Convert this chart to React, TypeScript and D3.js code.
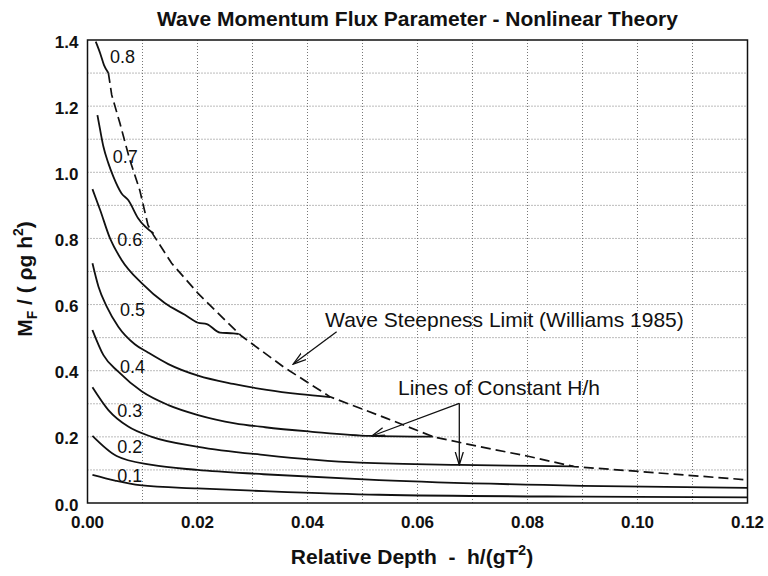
import React from "react";
import * as d3 from "d3";

// ---- data ----
const xTicks = [0, 0.02, 0.04, 0.06, 0.08, 0.1, 0.12];
const xTickLabels = ["0.00", "0.02", "0.04", "0.06", "0.08", "0.10", "0.12"];
const yTicks = [0, 0.2, 0.4, 0.6, 0.8, 1.0, 1.2, 1.4];
const yTickLabels = ["0.0", "0.2", "0.4", "0.6", "0.8", "1.0", "1.2", "1.4"];
const xGrid = [0.01, 0.02, 0.03, 0.04, 0.05, 0.06, 0.07, 0.08, 0.09, 0.1, 0.11];
const yGrid = [0.1, 0.2, 0.3, 0.4, 0.5, 0.6, 0.7, 0.8, 0.9, 1.0, 1.1, 1.2, 1.3];

const curve01: [number, number][] = [
  [0.0009, 0.085], [0.005, 0.068], [0.0095, 0.054], [0.02, 0.044], [0.032, 0.036],
  [0.053, 0.025], [0.09, 0.019], [0.12, 0.017],
];
const curve02: [number, number][] = [
  [0.0009, 0.203], [0.0053, 0.142], [0.0117, 0.115], [0.02, 0.1], [0.032, 0.087],
  [0.053, 0.069], [0.09, 0.052], [0.12, 0.046],
];
const curve03: [number, number][] = [
  [0.0009, 0.35], [0.0038, 0.281], [0.0074, 0.231], [0.0117, 0.2], [0.0201, 0.17],
  [0.0323, 0.145], [0.0495, 0.122], [0.0677, 0.115], [0.0768, 0.113], [0.0883, 0.111],
];
const curve04: [number, number][] = [
  [0.0009, 0.523], [0.0029, 0.447], [0.0056, 0.397], [0.0099, 0.337], [0.0147, 0.296],
  [0.0201, 0.266], [0.0268, 0.241], [0.0323, 0.229], [0.0405, 0.216], [0.0514, 0.203],
  [0.0628, 0.2005],
];
const curve05: [number, number][] = [
  [0.0009, 0.725], [0.002, 0.654], [0.0035, 0.594], [0.0056, 0.533], [0.0086, 0.48],
  [0.011, 0.455], [0.0147, 0.42], [0.0201, 0.385], [0.0265, 0.36], [0.0326, 0.342],
  [0.0386, 0.329], [0.0441, 0.32],
];
const curve06: [number, number][] = [
  [0.0009, 0.949], [0.0023, 0.886], [0.0041, 0.8], [0.0062, 0.735], [0.0099, 0.664],
  [0.0141, 0.604], [0.0177, 0.569], [0.0201, 0.545], [0.0217, 0.541], [0.0241, 0.515],
  [0.0265, 0.513], [0.0275, 0.511],
];
const curve07: [number, number][] = [
  [0.0018, 1.173], [0.0023, 1.128], [0.0029, 1.077], [0.0038, 1.027], [0.0047, 0.987],
  [0.0062, 0.936], [0.0074, 0.916], [0.0092, 0.861], [0.012, 0.815],
];
const curve08: [number, number][] = [
  [0.0015, 1.395], [0.0023, 1.36], [0.003, 1.324], [0.0038, 1.3],
];
const steepnessLimit: [number, number][] = [
  [0.0038, 1.3], [0.0044, 1.234], [0.0059, 1.148], [0.0077, 1.037], [0.0095, 0.946],
  [0.011, 0.84], [0.012, 0.81], [0.0153, 0.725], [0.0201, 0.634], [0.025, 0.553],
  [0.028, 0.505], [0.0356, 0.412], [0.0441, 0.321], [0.0544, 0.256], [0.0629, 0.2],
  [0.0714, 0.17], [0.0799, 0.142], [0.0885, 0.11], [0.1005, 0.095], [0.12, 0.07],
];
const curves = [curve01, curve02, curve03, curve04, curve05, curve06, curve07, curve08];
const curveNames = ["0.1", "0.2", "0.3", "0.4", "0.5", "0.6", "0.7", "0.8"];
// label anchors (left, baseline) in data units
const labelX = [0.0054, 0.0054, 0.0054, 0.0059, 0.0059, 0.0054, 0.0046, 0.0041];
const labelY = [0.0635, 0.151, 0.26, 0.393, 0.5655, 0.777, 1.028, 1.3305];

const FONT = "'Liberation Sans', Arial, Helvetica, sans-serif";

export default function App() {
  const W = 768, H = 576;
  const left = 87.5, right = 747.5, top = 40, bottom = 503;
  const x = d3.scaleLinear().domain([0, 0.12]).range([left, right]);
  const y = d3.scaleLinear().domain([0, 1.4]).range([bottom, top]);
  const line = d3.line<[number, number]>().x((d) => x(d[0])).y((d) => y(d[1])).curve(d3.curveMonotoneX);
  const lineLin = d3.line<[number, number]>().x((d) => x(d[0])).y((d) => y(d[1]));

  const arrow = (x1: number, y1: number, x2: number, y2: number) => (
    <line x1={x(x1)} y1={y(y1)} x2={x(x2)} y2={y(y2)} stroke="#111" strokeWidth={1.3} markerEnd="url(#arr)" />
  );

  return (
    <svg width={W} height={H} style={{ display: "block", position: "absolute", left: 0, top: 0, background: "#fff" }} fontFamily={FONT}>
      <defs>
        <marker id="arr" viewBox="0 0 14 10" refX="13" refY="5" markerWidth="14" markerHeight="10" markerUnits="userSpaceOnUse" orient="auto">
          <path d="M0,1 L13,5 L0,9" fill="none" stroke="#111" strokeWidth={1.3} />
        </marker>
      </defs>
      <rect width={W} height={H} fill="#fff" />
      {/* grid */}
      {xGrid.map((g) => (
        <line key={"xg" + g} x1={x(g)} x2={x(g)} y1={top} y2={bottom} stroke="#777" strokeWidth={1} strokeDasharray="1 2" />
      ))}
      {yGrid.map((g) => (
        <line key={"yg" + g} x1={left} x2={right} y1={y(g)} y2={y(g)} stroke="#777" strokeWidth={1} strokeDasharray="1 2" />
      ))}
      {/* curves */}
      {curves.map((c, i) => (
        <path key={"c" + i} d={line(c) || ""} fill="none" stroke="#111" strokeWidth={1.8} />
      ))}
      <path d={lineLin(steepnessLimit) || ""} fill="none" stroke="#111" strokeWidth={1.7} strokeDasharray="10 5" />
      {curveNames.map((n, i) => (
        <text key={"l" + n} x={x(labelX[i])} y={y(labelY[i])} fontSize={18} fill="#111">{n}</text>
      ))}
      {/* annotations */}
      <text x={x(0.0432)} y={y(0.533)} fontSize={21} fill="#111">Wave Steepness Limit (Williams 1985)</text>
      {arrow(0.0453, 0.518, 0.0374, 0.42)}
      <text x={x(0.05645)} y={y(0.3266)} fontSize={21} fill="#111">Lines of Constant H/h</text>
      {arrow(0.0676, 0.3015, 0.0517, 0.2026)}
      {arrow(0.0676, 0.3015, 0.0676, 0.115)}
      {/* frame */}
      <rect x={left} y={top} width={right - left} height={bottom - top} fill="none" stroke="#111" strokeWidth={1.5} />
      {/* ticks */}
      {xTicks.map((t, i) => (
        <text key={"xt" + t} x={x(t)} y={528} textAnchor="middle" fontSize={17} fontWeight="bold" fill="#111">{xTickLabels[i]}</text>
      ))}
      {yTicks.map((t, i) => (
        <text key={"yt" + t} x={left - 9} y={y(t) + 7.5} textAnchor="end" fontSize={17} fontWeight="bold" fill="#111">{yTickLabels[i]}</text>
      ))}
      {/* titles */}
      <text x={(left + right) / 2} y={26} textAnchor="middle" fontSize={21} fontWeight="bold" fill="#111">
        Wave Momentum Flux Parameter - Nonlinear Theory
      </text>
      <text x={412} y={564} textAnchor="middle" fontSize={21} fontWeight="bold" fill="#111" xmlSpace="preserve">
        Relative Depth  -  h/(gT<tspan dy={-9} fontSize={14}>2</tspan><tspan dy={9}>)</tspan>
      </text>
      <text transform={`translate(32,279) rotate(-90)`} textAnchor="middle" fontSize={21} fontWeight="bold" fill="#111" xmlSpace="preserve">
        M<tspan dy={5} fontSize={14}>F</tspan><tspan dy={-5}> / ( ρg h</tspan><tspan dy={-9} fontSize={14}>2</tspan><tspan dy={9}>)</tspan>
      </text>
    </svg>
  );
}
